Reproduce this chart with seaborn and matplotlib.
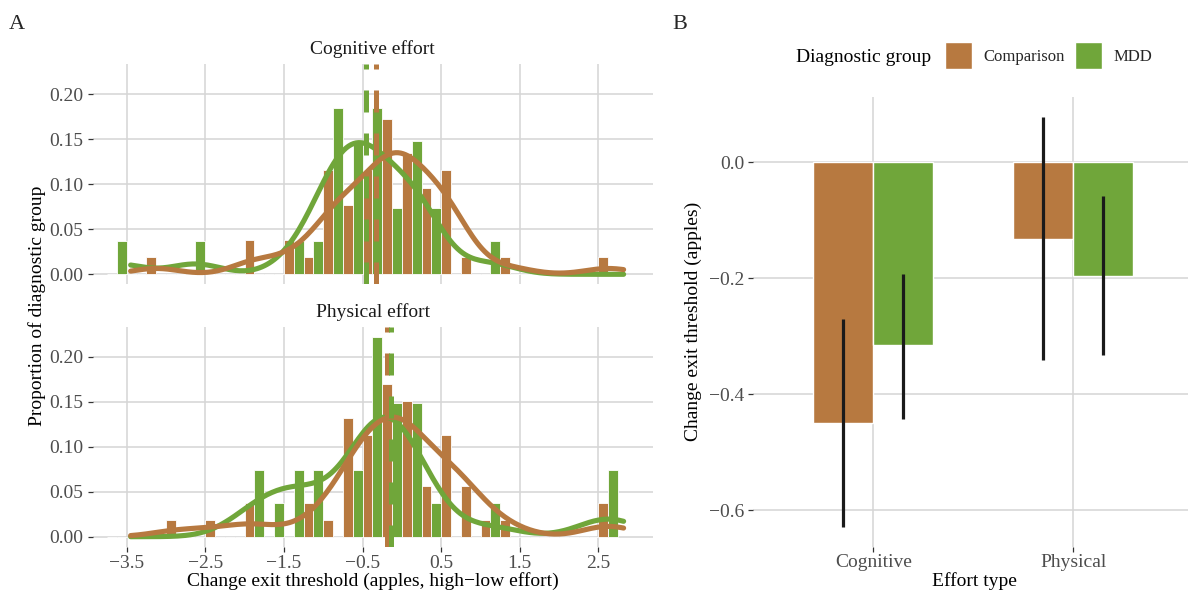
import numpy as np
import pandas as pd
import matplotlib
matplotlib.use("Agg")
import matplotlib.pyplot as plt
import seaborn as sns

# grupurile si culorile lor
groups = ["Comparison", "MDD"]
palette = {"Comparison": "#B77940", "MDD": "#70A63A"}

# centrele binurilor histogramei (latime 0.25)
bin_centers = [-3.625, -3.375, -3.125, -2.875, -2.625, -2.375, -2.125, -1.875,
               -1.625, -1.375, -1.125, -0.875, -0.625, -0.375, -0.125, 0.125,
               0.375, 0.625, 0.875, 1.125, 1.375, 1.625, 1.875, 2.125, 2.375, 2.625]

# numar de participanti pe bin
cog_comparison = [0, 0, 1, 0, 0, 0, 0, 2, 0, 2, 1, 6, 4, 6, 9, 7, 5, 6, 1, 0, 1, 0, 0, 0, 0, 1]
cog_mdd = [1, 0, 0, 0, 1, 0, 0, 0, 0, 1, 1, 5, 4, 5, 2, 4, 2, 0, 0, 1, 0, 0, 0, 0, 0, 0]
phys_comparison = [0, 0, 0, 1, 0, 1, 0, 2, 0, 0, 2, 1, 7, 6, 9, 8, 3, 6, 3, 1, 1, 0, 0, 0, 0, 2]
phys_mdd = [0, 0, 0, 0, 0, 0, 0, 2, 1, 2, 2, 0, 2, 6, 4, 4, 1, 0, 0, 1, 0, 0, 0, 0, 0, 2]

# liniile verticale punctate (valoare centrala pe grup)
cog_center = [-0.33, -0.46]
phys_center = [-0.19, -0.14]

# panoul B: medii si intervale
effort_types = ["Cognitive", "Physical"]
comparison_mean = [-0.449, -0.132]
mdd_mean = [-0.316, -0.196]
comparison_low = [-0.628, -0.341]
comparison_high = [-0.271, 0.078]
mdd_low = [-0.442, -0.333]
mdd_high = [-0.193, -0.059]

sns.set_theme(style="whitegrid")
plt.rcParams["font.family"] = ["Liberation Serif", "DejaVu Serif"]
plt.rcParams.update({
    "axes.spines.left": False, "axes.spines.right": False,
    "axes.spines.top": False, "axes.spines.bottom": False,
    "grid.color": "#D5D5D5", "grid.linewidth": 1.1,
    "xtick.bottom": True, "ytick.left": True,
    "xtick.major.size": 3.3, "ytick.major.size": 3.3,
    "xtick.major.width": 0.9, "ytick.major.width": 0.9,
    "xtick.color": "#333333", "ytick.color": "#333333",
    "xtick.labelcolor": "#4D4D4D", "ytick.labelcolor": "#4D4D4D",
    "xtick.labelsize": 14, "ytick.labelsize": 14,
    "xtick.major.pad": 3.0, "ytick.major.pad": 3.2,
})

W, H = 1188, 594
fig = plt.figure(figsize=(W / 100, H / 100), dpi=100)


def axes_px(left, top, right, bottom):
    return fig.add_axes([left / W, 1 - bottom / H, (right - left) / W, (bottom - top) / H])


ax_cog = axes_px(92.5, 64.3, 652.7, 284.3)
ax_phys = axes_px(92.5, 326.7, 652.7, 546.7)
ax_b = axes_px(753.3, 96.7, 1188, 546.7)

facets = [
    (ax_cog, cog_comparison, cog_mdd, cog_center, "Cognitive effort"),
    (ax_phys, phys_comparison, phys_mdd, phys_center, "Physical effort"),
]

for ax, comp, mdd, centers, title in facets:
    df = pd.DataFrame({
        "threshold": bin_centers + bin_centers,
        "count": comp + mdd,
        "group": ["Comparison"] * len(bin_centers) + ["MDD"] * len(bin_centers),
    })
    sns.histplot(data=df, x="threshold", weights="count", hue="group",
                 hue_order=groups, palette=palette, stat="proportion",
                 common_norm=False, binwidth=0.25, binrange=(-3.75, 2.75),
                 multiple="dodge", alpha=1, edgecolor="white", linewidth=0.6,
                 kde=True, kde_kws={"bw_adjust": 0.5, "clip": (-3.45, 2.82), "cut": 10},
                 line_kws={"linewidth": 3.7}, legend=False, ax=ax)
    for g, c in zip(groups, centers):
        ax.axvline(c, color=palette[g], linewidth=3.6, dashes=(4.4, 4.2))
    ax.set_xlim(-3.935, 3.19)
    ax.set_ylim(-0.0111, 0.2333)
    ax.set_xticks([-3.5, -2.5, -1.5, -0.5, 0.5, 1.5, 2.5])
    ax.set_yticks([0, 0.05, 0.10, 0.15, 0.20])
    ax.set_xlabel("")
    ax.set_ylabel("")
    ax.set_title(title, fontsize=14, pad=7.3, color="#1A1A1A")

ax_cog.tick_params(axis="x", bottom=False, labelbottom=False)

fig.text(37 / W, 1 - 305.5 / H, "Proportion of diagnostic group", rotation=90,
         ha="center", va="center", fontsize=14, color="black")
fig.text(372.6 / W, 1 - 581 / H, "Change exit threshold (apples, high\u2212low effort)",
         ha="center", va="center", fontsize=14, color="black")

# panoul B
df_b = pd.DataFrame({
    "effort": effort_types + effort_types,
    "change": comparison_mean + mdd_mean,
    "group": ["Comparison"] * 2 + ["MDD"] * 2,
})
sns.barplot(data=df_b, x="effort", y="change", hue="group", hue_order=groups,
            palette=palette, width=0.6, errorbar=None, saturation=1, ax=ax_b)

for container, lows, highs in zip(ax_b.containers, [comparison_low, mdd_low],
                                  [comparison_high, mdd_high]):
    for bar, lo, hi in zip(container, lows, highs):
        xc = bar.get_x() + bar.get_width() / 2
        ax_b.vlines(xc, lo, hi, color="#1A1A1A", linewidth=2.3)

ax_b.xaxis.grid(True)
ax_b.set_xlim(-0.6, 1.5735)
ax_b.set_ylim(-0.6627, 0.1125)
ax_b.set_yticks([0.0, -0.2, -0.4, -0.6])
ax_b.set_xlabel("")
ax_b.set_ylabel("")
ax_b.tick_params(axis="x", pad=2.0)

handles, labels = ax_b.get_legend_handles_labels()
ax_b.legend(handles, labels, ncol=2, frameon=False, loc="center left",
            bbox_to_anchor=(945 / W, 1 - 55.3 / H), bbox_transform=fig.transFigure,
            fontsize=12, handlelength=1.62, handleheight=2.11,
            handletextpad=0.66, columnspacing=0.66, borderpad=0, borderaxespad=0)
fig.text(796 / W, 1 - 62.3 / H, "Diagnostic group", ha="left", va="baseline",
         fontsize=14, color="black")

fig.text(693 / W, 1 - 321.7 / H, "Change exit threshold (apples)", rotation=90,
         ha="center", va="center", fontsize=14, color="black")
fig.text(974 / W, 1 - 581 / H, "Effort type", ha="center", va="center",
         fontsize=14, color="black")

fig.text(9 / W, 1 - 29 / H, "A", ha="left", va="baseline", fontsize=16)
fig.text(672 / W, 1 - 29 / H, "B", ha="left", va="baseline", fontsize=16)

fig.savefig("out.png", dpi=100)
